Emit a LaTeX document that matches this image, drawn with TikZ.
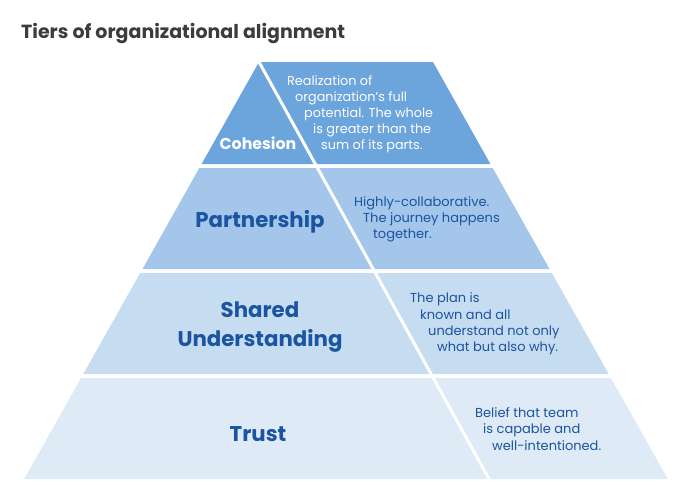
\documentclass[tikz,border=0pt]{standalone}
\usepackage{fontspec}
\setmainfont{Poppins}
\definecolor{tierA}{HTML}{6CA4DC}
\definecolor{tierB}{HTML}{A3C6EA}
\definecolor{tierC}{HTML}{C6DCF1}
\definecolor{tierD}{HTML}{DFEAF7}
\definecolor{labelblue}{HTML}{1B54A0}
\definecolor{titlegray}{HTML}{3C3C3E}
\tikzset{
  tierlabel/.style={font=\fontsize{21.3}{29}\selectfont\bfseries, text=labelblue, align=center, inner sep=0pt},
  tierdesc/.style={font=\fontsize{13}{16.3}\selectfont, text=labelblue, align=left, anchor=west, inner sep=0pt},
}
\begin{document}
\begin{tikzpicture}[x=1pt,y=-1pt]
\useasboundingbox (0,0) rectangle (684,485);
\fill[white] (0,0) rectangle (684,485);
% title
\node[anchor=west, inner sep=0pt, text=titlegray, font=\fontsize{19}{22}\selectfont\bfseries] (title) at (21,33) {Tiers of organizational alignment};
% tiers
\fill[tierA] (259,62) -- (433,62) -- (490.4,164) -- (201.6,164) -- cycle;
\fill[tierB] (199.3,168) -- (492.7,168) -- (549.5,269) -- (142.5,269) -- cycle;
\fill[tierC] (140.2,273) -- (551.8,273) -- (608.7,374) -- (83.3,374) -- cycle;
\fill[tierD] (81.1,378) -- (610.9,378) -- (667.8,479) -- (24.2,479) -- cycle;
% divider
\draw[white, line width=3pt] (257.4,59) -- (491.2,483);
% labels
\node[tierlabel, text=white, font=\fontsize{15.8}{19}\selectfont\bfseries] (cohesion) at (258,143.5) {Cohesion};
\node[tierlabel] (partnership) at (260,221.5) {Partnership};
\node[tierlabel] (shared) at (260,327.5) {Shared\\Understanding};
\node[tierlabel] (trust) at (258,434) {Trust};
% descriptions
\node[tierdesc, text=white, font=\fontsize{12.8}{16}\selectfont] (dcoh) at (287,114) {Realization of\\\hspace*{8pt}organization’s full\\\hspace*{17pt}potential. The whole\\\hspace*{26pt}is greater than the\\\hspace*{34pt}sum of its parts.};
\node[tierdesc] (dpart) at (354,219.5) {Highly-collaborative.\\\hspace*{9pt}The journey happens\\\hspace*{19pt}together.};
\node[tierdesc] (dshared) at (410,324) {The plan is\\\hspace*{10pt}known and all\\\hspace*{18pt}understand not only\\\hspace*{27pt}what but also why.};
\node[tierdesc] (dtrust) at (475,429) {Belief that team\\\hspace*{8pt}is capable and\\\hspace*{17pt}well-intentioned.};
\end{tikzpicture}
\end{document}
